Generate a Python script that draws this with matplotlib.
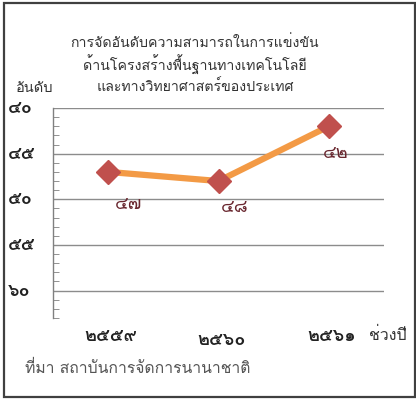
import matplotlib
matplotlib.use("Agg")
import matplotlib.pyplot as plt
from matplotlib.patches import Rectangle

# ข้อมูล
years = ["๒๕๕๙", "๒๕๖๐", "๒๕๖๑"]
ranks = [47, 48, 42]
rank_labels = ["๔๗", "๔๘", "๔๒"]
y_ticks = [40, 45, 50, 55, 60]
y_tick_labels = ["๔๐", "๔๕", "๕๐", "๕๕", "๖๐"]
title_lines = ["การจัดอันดับความสามารถในการแข่งขัน",
               "ด้านโครงสร้างพื้นฐานทางเทคโนโลยี",
               "และทางวิทยาศาสตร์ของประเทศ"]

FONT = ["Loma", "Noto Sans Thai Looped", "DejaVu Sans"]
plt.rcParams["font.family"] = FONT

fig = plt.figure(figsize=(4.16, 3.99), dpi=100)
W, H = 416, 399

def fx(px):
    return px / W

def fy(py):
    return 1 - py / H

# กรอบรอบภาพ
fig.patches.append(Rectangle((fx(4), fy(397)), fx(411), 394 / H,
                             transform=fig.transFigure, fill=False,
                             edgecolor="#404040", linewidth=1.6))

ax_left, ax_right = 53, 384
ax = fig.add_axes([fx(ax_left), fy(318), fx(ax_right - ax_left), (318 - 108) / H])
x = list(range(len(years)))
ax.plot(x, ranks, color="#F39A45", linewidth=4.5, zorder=3)
ax.plot(x, ranks, linestyle="none", marker="D", markersize=12.5,
        color="#C0504D", zorder=4)

ax.set_xlim(-0.5, 2.5)
ax.set_ylim(63, 40)

for s in ["top", "right", "bottom"]:
    ax.spines[s].set_visible(False)
ax.spines["left"].set_color("#808080")
ax.spines["left"].set_linewidth(1.0)

ax.set_yticks(y_ticks)
ax.set_yticklabels([])
ax.set_yticks(range(40, 64), minor=True)
ax.tick_params(axis="y", which="both", direction="in", length=4, color="#808080")
ax.tick_params(axis="y", which="major", length=0)
ax.set_xticks([])
ax.grid(axis="y", which="major", color="#8c8c8c", linewidth=1.0)

# ป้ายแกน y ชิดซ้าย
lab_x = (8 - ax_left) / (ax_right - ax_left)
for yv, lab in zip(y_ticks, y_tick_labels):
    ax.text(lab_x, yv, lab, transform=ax.get_yaxis_transform(),
            ha="left", va="center", fontsize=13, fontweight="bold",
            color="#222222", clip_on=False)

# ป้ายปี (ตำแหน่งเหลื่อมกันเล็กน้อยตามต้นฉบับ)
year_offsets = [-18, -22, -18]
for xi, lab, dy in zip(x, years, year_offsets):
    ax.annotate(lab, (xi, 63), xytext=(3, dy), textcoords="offset pixels",
                ha="center", va="center", fontsize=13, fontweight="bold",
                color="#222222", annotation_clip=False)

# ป้ายค่า
label_offsets = [(20, -32), (16, -26), (7, -27)]
for xi, yi, lab, (ox, oy) in zip(x, ranks, rank_labels, label_offsets):
    ax.annotate(lab, (xi, yi), xytext=(ox, oy), textcoords="offset pixels",
                ha="center", va="center", fontsize=13,
                color="#6a2830", zorder=5)

# ชื่อกราฟ
for i, line in enumerate(title_lines):
    fig.text(fx(195), fy(43 + i * 22), line, ha="center", va="center",
             fontsize=10.2, color="#333333")

fig.text(fx(35), fy(88), "อันดับ", ha="center", va="center",
         fontsize=10.5, color="#333333")
fig.text(fx(388), fy(336), "ช่วงปี", ha="center", va="center",
         fontsize=11.5, color="#333333")
fig.text(fx(25), fy(368), "ที่มา สถาบันการจัดการนานาชาติ", ha="left",
         va="center", fontsize=11.3, color="#555555")

fig.savefig("out.png", dpi=100)
